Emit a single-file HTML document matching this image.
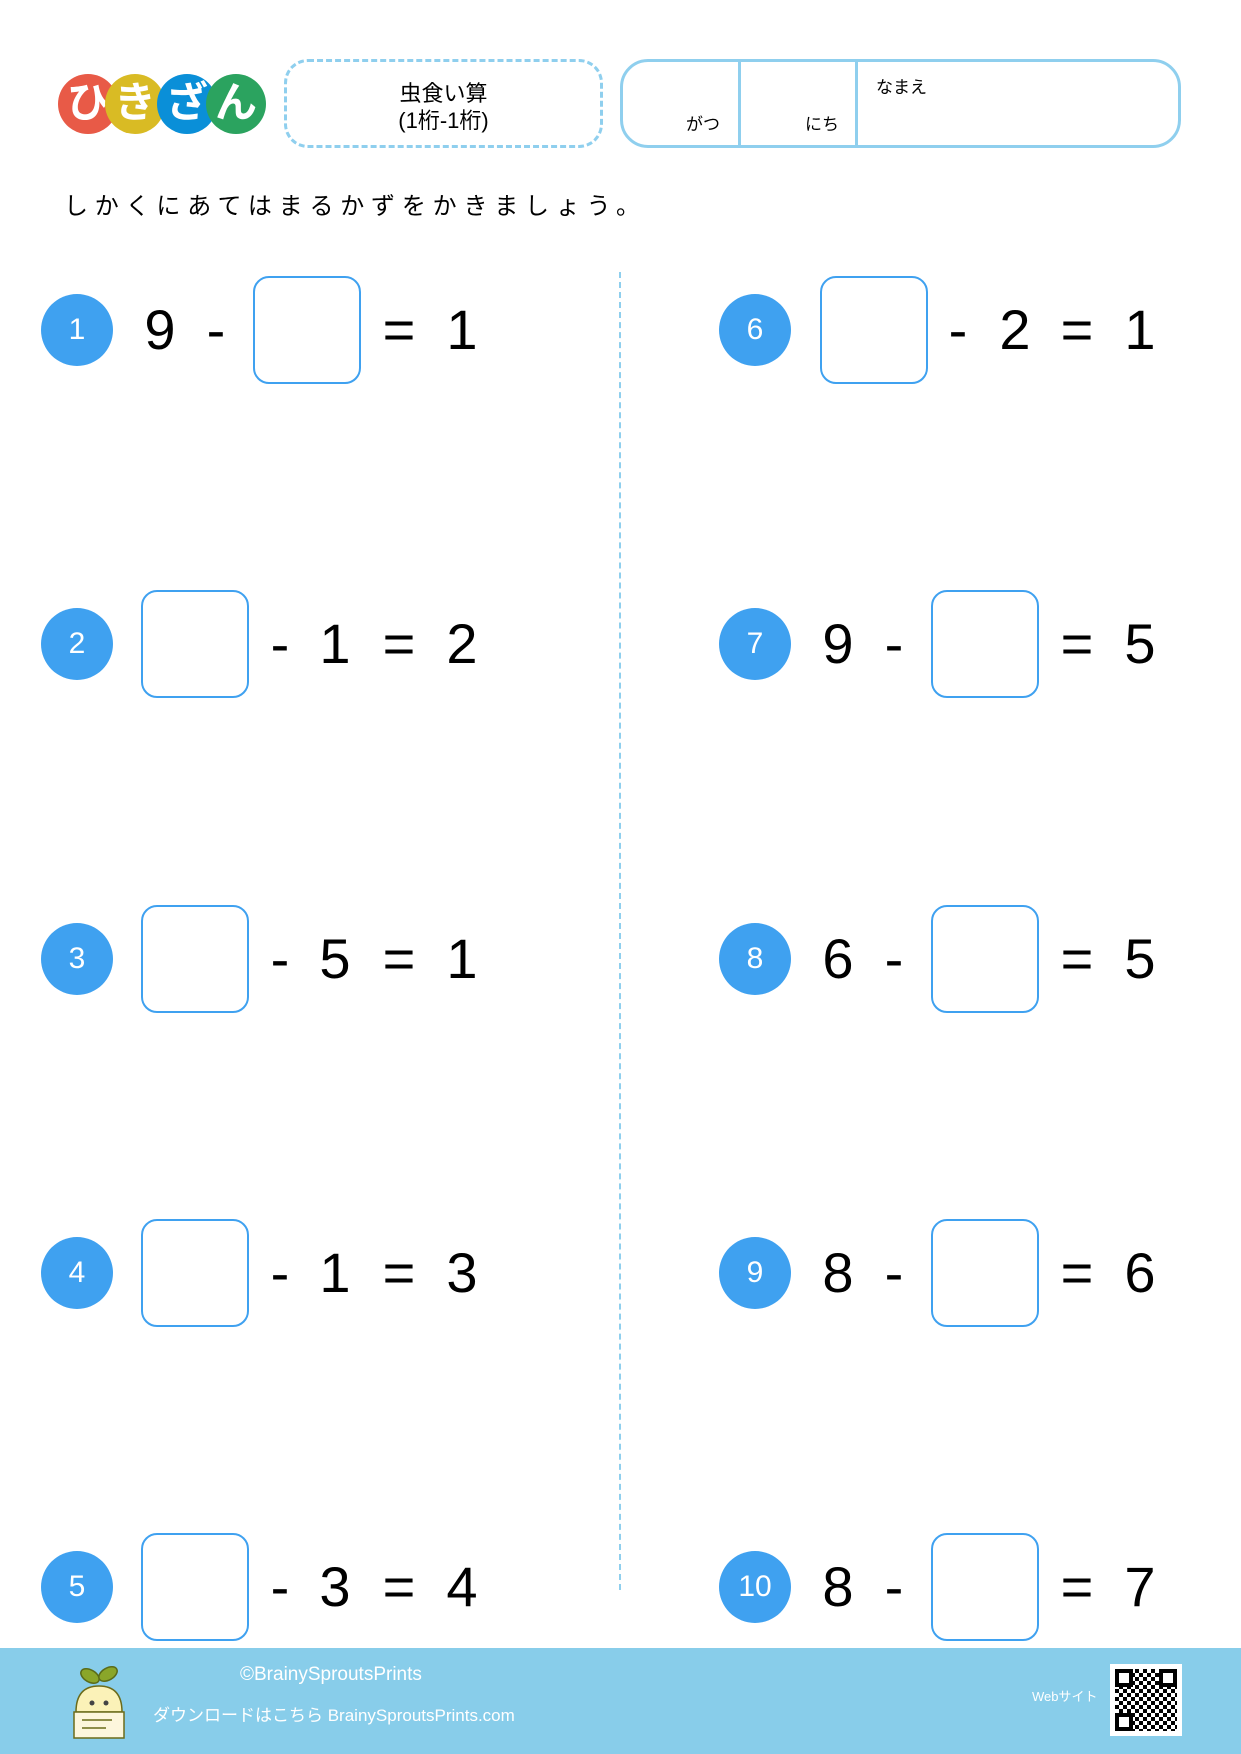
<!DOCTYPE html>
<html><head><meta charset="utf-8"><style>
*{margin:0;padding:0;box-sizing:border-box}
body{width:1241px;height:1754px;position:relative;background:#fff;font-family:"Liberation Sans","Noto Sans CJK JP",sans-serif;overflow:hidden}
.a{position:absolute}
.lc{position:absolute;width:60px;height:60px;border-radius:50%;color:#fff;font-size:42px;font-weight:bold;text-align:center;line-height:58px;top:74px}
.nc{position:absolute;width:72px;height:72px;border-radius:50%;background:#3fa1f0;color:#fff;font-size:30px;text-align:center;line-height:72px}
.bx{position:absolute;width:108px;height:108px;border:2.5px solid #3fa1f0;border-radius:16px}
.t{position:absolute;width:60px;text-align:center;font-size:56px;line-height:60px;color:#000}
</style></head><body>
<div class="lc" style="left:58px;background:#e85a47">ひ</div>
<div class="lc" style="left:105px;background:#d9bb24">き</div>
<div class="lc" style="left:157px;background:#0a8fd8">ざ</div>
<div class="lc" style="left:206px;background:#2ba35f">ん</div>
<div class="a" style="left:284px;top:59px;width:319px;height:89px;border:3px dashed #8fcfee;border-radius:24px;text-align:center;font-size:22px;line-height:27px;padding-top:18px">虫食い算<br>(1桁-1桁)</div>
<div class="a" style="left:620px;top:59px;width:561px;height:89px;border:3px solid #8fcfee;border-radius:28px"></div>
<div class="a" style="left:738px;top:60px;width:3px;height:87px;background:#8fcfee"></div>
<div class="a" style="left:855px;top:60px;width:3px;height:87px;background:#8fcfee"></div>
<div class="a" style="left:686px;top:110px;font-size:17px">がつ</div>
<div class="a" style="left:805px;top:110px;font-size:17px">にち</div>
<div class="a" style="left:876px;top:73px;font-size:17px">なまえ</div>
<div class="a" style="left:64px;top:186px;font-size:24px;letter-spacing:6.8px">しかくにあてはまるかずをかきましょう。</div>
<div class="a" style="left:619px;top:272px;height:1318px;border-left:2px dashed #8fcfee"></div>

<div class="nc" style="left:41px;top:294px">1</div>
<div class="t" style="left:130px;top:300px">9</div><div class="t" style="left:186px;top:300px">-</div>
<div class="bx" style="left:253px;top:276px"></div>
<div class="t" style="left:369px;top:300px">=</div><div class="t" style="left:432px;top:300px">1</div>

<div class="nc" style="left:41px;top:608px">2</div>
<div class="bx" style="left:141px;top:590px"></div>
<div class="t" style="left:250px;top:614px">-</div><div class="t" style="left:305px;top:614px">1</div>
<div class="t" style="left:369px;top:614px">=</div><div class="t" style="left:432px;top:614px">2</div>

<div class="nc" style="left:41px;top:923px">3</div>
<div class="bx" style="left:141px;top:905px"></div>
<div class="t" style="left:250px;top:929px">-</div><div class="t" style="left:305px;top:929px">5</div>
<div class="t" style="left:369px;top:929px">=</div><div class="t" style="left:432px;top:929px">1</div>

<div class="nc" style="left:41px;top:1237px">4</div>
<div class="bx" style="left:141px;top:1219px"></div>
<div class="t" style="left:250px;top:1243px">-</div><div class="t" style="left:305px;top:1243px">1</div>
<div class="t" style="left:369px;top:1243px">=</div><div class="t" style="left:432px;top:1243px">3</div>

<div class="nc" style="left:41px;top:1551px">5</div>
<div class="bx" style="left:141px;top:1533px"></div>
<div class="t" style="left:250px;top:1557px">-</div><div class="t" style="left:305px;top:1557px">3</div>
<div class="t" style="left:369px;top:1557px">=</div><div class="t" style="left:432px;top:1557px">4</div>

<div class="nc" style="left:719px;top:294px">6</div>
<div class="bx" style="left:820px;top:276px"></div>
<div class="t" style="left:928px;top:300px">-</div><div class="t" style="left:985px;top:300px">2</div>
<div class="t" style="left:1047px;top:300px">=</div><div class="t" style="left:1110px;top:300px">1</div>

<div class="nc" style="left:719px;top:608px">7</div>
<div class="t" style="left:808px;top:614px">9</div><div class="t" style="left:864px;top:614px">-</div>
<div class="bx" style="left:931px;top:590px"></div>
<div class="t" style="left:1047px;top:614px">=</div><div class="t" style="left:1110px;top:614px">5</div>

<div class="nc" style="left:719px;top:923px">8</div>
<div class="t" style="left:808px;top:929px">6</div><div class="t" style="left:864px;top:929px">-</div>
<div class="bx" style="left:931px;top:905px"></div>
<div class="t" style="left:1047px;top:929px">=</div><div class="t" style="left:1110px;top:929px">5</div>

<div class="nc" style="left:719px;top:1237px">9</div>
<div class="t" style="left:808px;top:1243px">8</div><div class="t" style="left:864px;top:1243px">-</div>
<div class="bx" style="left:931px;top:1219px"></div>
<div class="t" style="left:1047px;top:1243px">=</div><div class="t" style="left:1110px;top:1243px">6</div>

<div class="nc" style="left:719px;top:1551px">10</div>
<div class="t" style="left:808px;top:1557px">8</div><div class="t" style="left:864px;top:1557px">-</div>
<div class="bx" style="left:931px;top:1533px"></div>
<div class="t" style="left:1047px;top:1557px">=</div><div class="t" style="left:1110px;top:1557px">7</div>

<div class="a" style="left:0;top:1648px;width:1241px;height:106px;background:#88cdea"></div>
<svg class="a" style="left:66px;top:1660px" width="66" height="82" viewBox="0 0 66 82">
<ellipse cx="24" cy="16" rx="10" ry="6" fill="#8aa62a" stroke="#5a6b1a" stroke-width="1.5" transform="rotate(30 24 16)"/>
<ellipse cx="42" cy="14" rx="10" ry="6" fill="#8aa62a" stroke="#5a6b1a" stroke-width="1.5" transform="rotate(-30 42 14)"/>
<path d="M10 52 Q10 26 33 26 Q56 26 56 52 Z" fill="#fbf2b8" stroke="#6b6b1a" stroke-width="1.5"/>
<circle cx="26" cy="43" r="2.5" fill="#444"/><circle cx="40" cy="43" r="2.5" fill="#444"/>
<rect x="8" y="52" width="50" height="26" fill="#fdf6dc" stroke="#6b6b1a" stroke-width="1.5"/>
<line x1="16" y1="60" x2="46" y2="60" stroke="#6b6b1a" stroke-width="1.5"/><line x1="16" y1="68" x2="40" y2="68" stroke="#6b6b1a" stroke-width="1.5"/>
</svg>
<div class="a" style="left:240px;top:1664px;font-size:19px;color:#fff">©BrainySproutsPrints</div>
<div class="a" style="left:153px;top:1701px;font-size:17px;color:#fff">ダウンロードはこちら BrainySproutsPrints.com</div>
<div class="a" style="left:1032px;top:1686px;font-size:13px;color:#fff">Webサイト</div>
<div class="a" style="left:1110px;top:1664px;width:72px;height:72px;background:#fff;padding:5px">
<div style="width:62px;height:62px;background:repeating-conic-gradient(#000 0 25%,#fff 0 50%) 0 0/8px 8px;position:relative">
<div style="position:absolute;left:0;top:0;width:18px;height:18px;border:4px solid #000;background:#fff"></div>
<div style="position:absolute;right:0;top:0;width:18px;height:18px;border:4px solid #000;background:#fff"></div>
<div style="position:absolute;left:0;bottom:0;width:18px;height:18px;border:4px solid #000;background:#fff"></div>
</div></div>
</body></html>
